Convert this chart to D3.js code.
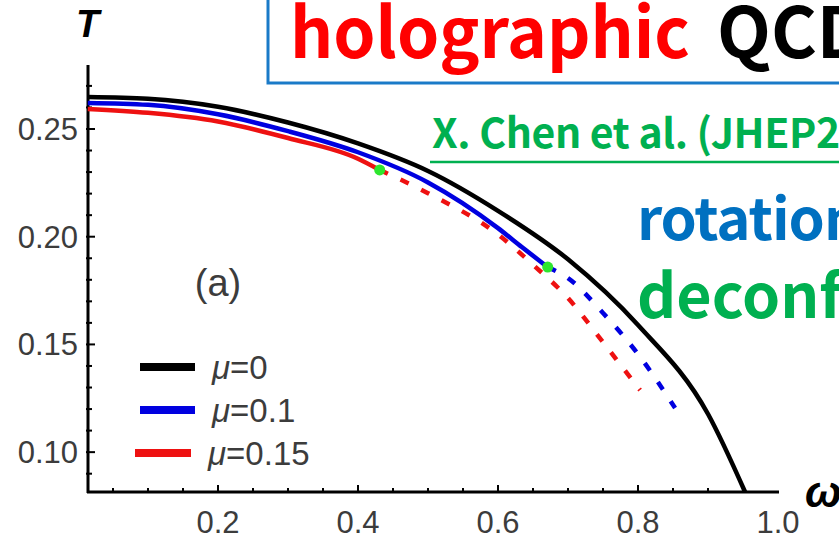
<!DOCTYPE html>
<html>
<head>
<meta charset="utf-8">
<script src="https://cdn.jsdelivr.net/npm/d3@7"></script>
<style>
  body { margin: 0; background: #fff; overflow: hidden; }
</style>
</head>
<body>
<div id="main_div"></div>
<script>

// mu = 0, solid all the way down to the axis
const omega_mu0 = [0.014, 0.1, 0.2, 0.3, 0.4, 0.5, 0.6, 0.7, 0.8, 0.9, 0.953];
const T_mu0 = [0.2648, 0.2640, 0.2603, 0.2530, 0.2433, 0.2305, 0.2120, 0.1895, 0.1590, 0.1177, 0.0815];

// mu = 0.1, solid then dashed after the green point
const omega_mu01 = [0.014, 0.1, 0.2, 0.3, 0.4, 0.5, 0.6, 0.634, 0.671];
const T_mu01 = [0.2621, 0.2612, 0.2568, 0.2490, 0.2392, 0.2252, 0.2040, 0.1952, 0.1859];
const omega_mu01_dash = [0.671, 0.7, 0.75, 0.8, 0.853];
const T_mu01_dash = [0.1859, 0.1808, 0.1646, 0.1455, 0.1205];

// mu = 0.15
const omega_mu015 = [0.014, 0.1, 0.2, 0.3, 0.4, 0.431];
const T_mu015 = [0.2593, 0.2575, 0.2535, 0.2458, 0.2362, 0.2310];
const omega_mu015_dash = [0.431, 0.5, 0.6, 0.65, 0.7, 0.75, 0.803];
const T_mu015_dash = [0.2310, 0.2202, 0.2010, 0.1870, 0.1715, 0.1510, 0.1288];

// green end points of the solid parts
const crit_omega = [0.431, 0.671];
const crit_T = [0.2310, 0.1859];

const x_ticks = [0.2, 0.4, 0.6, 0.8, 1.0];
const y_ticks = [0.10, 0.15, 0.20, 0.25];
const legend_labels = ["0", "0.1", "0.15"];
const legend_colors = ["#000000", "#0000e0", "#ee1111"];

function zip(xs, ys) {
    return xs.map((x, i) => ({ "x": x, "y": ys[i] }));
}

function draw() {
    const W = 839, H = 538;

    const svg = d3.select("#main_div")
        .append("svg")
        .attr("width", W)
        .attr("height", H);

    const xScale = d3.scaleLinear()
        .domain([0.0143, 1.0])
        .range([88, 778]);

    const yScale = d3.scaleLinear()
        .domain([0.0815, 0.2797])
        .range([492, 65]);

    const line = d3.line()
        .curve(d3.curveMonotoneX)
        .x(d => xScale(d.x))
        .y(d => yScale(d.y));

    // title box and annotations
    svg.append("rect")
        .attr("x", 268).attr("y", -10)
        .attr("width", 700).attr("height", 93)
        .attr("fill", "none")
        .attr("stroke", "#1a7ac8")
        .attr("stroke-width", 3);

    const cjk = "'Noto Sans CJK SC', 'Noto Sans', sans-serif";

    svg.append("text")
        .attr("x", 290).attr("y", 58)
        .attr("font-family", cjk).attr("font-weight", "bold")
        .attr("font-size", 70)
        .attr("textLength", 400)
        .attr("lengthAdjust", "spacingAndGlyphs")
        .attr("fill", "#ff0000")
        .text("holographic");

    svg.append("text")
        .attr("x", 717).attr("y", 58)
        .attr("font-family", cjk).attr("font-weight", "bold")
        .attr("font-size", 70)
        .attr("fill", "#000")
        .text("QCD");

    svg.append("text")
        .attr("x", 432).attr("y", 148)
        .attr("font-family", cjk).attr("font-weight", "bold")
        .attr("font-size", 41)
        .attr("letter-spacing", -0.4)
        .attr("fill", "#00b050")
        .text("X. Chen et al. (JHEP2021)");

    svg.append("line")
        .attr("x1", 430).attr("x2", 1000)
        .attr("y1", 162).attr("y2", 162)
        .attr("stroke", "#00b050")
        .attr("stroke-width", 2.5);

    svg.append("text")
        .attr("x", 637).attr("y", 240)
        .attr("font-family", cjk).attr("font-weight", "bold")
        .attr("font-size", 58)
        .attr("letter-spacing", -1)
        .attr("fill", "#0070c0")
        .text("rotation");

    svg.append("text")
        .attr("x", 637).attr("y", 318)
        .attr("font-family", cjk).attr("font-weight", "bold")
        .attr("font-size", 61)
        .attr("fill", "#00b050")
        .text("deconfinement");

    // axes
    const axis_col = "#000";
    svg.append("line")
        .attr("x1", 88).attr("x2", 88)
        .attr("y1", 65).attr("y2", 493)
        .attr("stroke", axis_col).attr("stroke-width", 3);
    svg.append("line")
        .attr("x1", 87).attr("x2", 779)
        .attr("y1", 492).attr("y2", 492)
        .attr("stroke", axis_col).attr("stroke-width", 3);

    const x_minor = d3.range(1, 20).map(i => i * 0.05);
    const y_minor = d3.range(9, 28).map(i => i / 100);

    x_minor.forEach(v => {
        const major = x_ticks.some(t => Math.abs(t - v) < 1e-6);
        svg.append("line")
            .attr("x1", xScale(v)).attr("x2", xScale(v))
            .attr("y1", 493).attr("y2", 492 - (major ? 7 : 4))
            .attr("stroke", axis_col).attr("stroke-width", 2);
    });

    y_minor.forEach(v => {
        const major = y_ticks.some(t => Math.abs(t - v) < 1e-6);
        svg.append("line")
            .attr("x1", 86).attr("x2", 88 + (major ? 7 : 4))
            .attr("y1", yScale(v)).attr("y2", yScale(v))
            .attr("stroke", axis_col).attr("stroke-width", 2);
    });

    const lab_font = "'Liberation Sans', Arial, sans-serif";

    svg.selectAll(".xlab")
        .data(x_ticks)
        .enter().append("text")
        .attr("x", d => xScale(d))
        .attr("y", 533)
        .attr("text-anchor", "middle")
        .attr("font-family", lab_font)
        .attr("font-size", 31)
        .attr("fill", "#3c3c3c")
        .text(d => d3.format(".1f")(d));

    svg.selectAll(".ylab")
        .data(y_ticks)
        .enter().append("text")
        .attr("x", 78)
        .attr("y", d => yScale(d) + 11)
        .attr("text-anchor", "end")
        .attr("font-family", lab_font)
        .attr("font-size", 31)
        .attr("fill", "#3c3c3c")
        .text(d => d3.format(".2f")(d));

    svg.append("text")
        .attr("x", 76).attr("y", 37)
        .attr("font-family", lab_font)
        .attr("font-style", "italic").attr("font-weight", "bold")
        .attr("font-size", 38)
        .attr("fill", "#000")
        .text("T");

    svg.append("text")
        .attr("x", 805).attr("y", 507)
        .attr("font-family", lab_font)
        .attr("font-style", "italic").attr("font-weight", "bold")
        .attr("font-size", 44)
        .attr("fill", "#000")
        .text("ω");

    svg.append("text")
        .attr("x", 218).attr("y", 296)
        .attr("text-anchor", "middle")
        .attr("font-family", lab_font)
        .attr("font-size", 38)
        .attr("fill", "#3c3c3c")
        .text("(a)");

    // curves
    svg.append("path")
        .datum(zip(omega_mu015_dash, T_mu015_dash))
        .attr("fill", "none").attr("stroke", "#ee1111")
        .attr("stroke-width", 4.5).attr("stroke-dasharray", "9,14")
        .attr("d", line);
    svg.append("path")
        .datum(zip(omega_mu01_dash, T_mu01_dash))
        .attr("fill", "none").attr("stroke", "#0000e0")
        .attr("stroke-width", 4.5).attr("stroke-dasharray", "9,14")
        .attr("d", line);
    svg.append("path")
        .datum(zip(omega_mu015, T_mu015))
        .attr("fill", "none").attr("stroke", "#ee1111")
        .attr("stroke-width", 4.5)
        .attr("d", line);
    svg.append("path")
        .datum(zip(omega_mu01, T_mu01))
        .attr("fill", "none").attr("stroke", "#0000e0")
        .attr("stroke-width", 4.5)
        .attr("d", line);
    svg.append("path")
        .datum(zip(omega_mu0, T_mu0))
        .attr("fill", "none").attr("stroke", "#000")
        .attr("stroke-width", 4.5)
        .attr("stroke-linejoin", "round")
        .attr("d", line);

    svg.selectAll(".crit")
        .data(zip(crit_omega, crit_T))
        .enter().append("circle")
        .attr("cx", d => xScale(d.x))
        .attr("cy", d => yScale(d.y))
        .attr("r", 5.5)
        .attr("fill", "#2ee62e");

    // legend
    legend_labels.forEach((lab, i) => {
        const y = 367 + i * 43;
        svg.append("line")
            .attr("x1", i == 2 ? 135 : 140).attr("x2", i == 2 ? 191 : 195)
            .attr("y1", y).attr("y2", y)
            .attr("stroke", legend_colors[i])
            .attr("stroke-width", 8);
        const t = svg.append("text")
            .attr("x", i == 2 ? 208 : 212).attr("y", y + 12)
            .attr("font-family", lab_font)
            .attr("font-size", 33)
            .attr("fill", "#3c3c3c");
        t.append("tspan").attr("font-style", "italic").text("μ");
        t.append("tspan").text("=" + lab);
    });
}

d3.select(window).on("load", draw);
</script>
</body>
</html>
